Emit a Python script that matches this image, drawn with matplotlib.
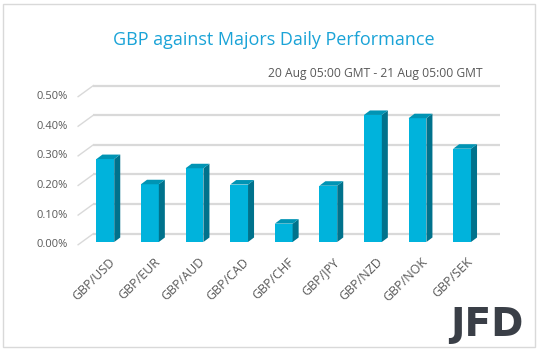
import matplotlib.pyplot as plt
from matplotlib.patches import Polygon, Rectangle

# data (% change)
pairs = ['GBP/USD', 'GBP/EUR', 'GBP/AUD', 'GBP/CAD', 'GBP/CHF',
         'GBP/JPY', 'GBP/NZD', 'GBP/NOK', 'GBP/SEK']
values = [0.280, 0.195, 0.249, 0.194, 0.062, 0.190, 0.429, 0.418, 0.315]
ticks = [0.0, 0.1, 0.2, 0.3, 0.4, 0.5]
tick_labels = ['0.00%', '0.10%', '0.20%', '0.30%', '0.40%', '0.50%']

title = 'GBP against Majors Daily Performance'
subtitle = '20 Aug 05:00 GMT - 21 Aug 05:00 GMT'

front_c = '#00B3DC'
top_c = '#0094B4'
side_c = '#00728C'
grid_c = '#D9D9D9'
text_c = '#595959'

plt.rcParams['font.family'] = ['Open Sans', 'DejaVu Sans']

fig = plt.figure(figsize=(5.38, 3.51), dpi=100)
ax = fig.add_axes([60 / 538, 101 / 351, 440 / 538, 170 / 351])
ax.set_xlim(-1.016, 8.85)
ax.set_ylim(-0.027, 0.547)
ax.axis('off')

# 3d offsets in data units
w = 0.40
dx = 0.135
dy = 0.0152
back_dy = 0.028      # back wall grid sits above bar baseline
back_x0 = -0.27      # left end of back grid
back_x1 = 8.85
front_x0 = -0.61
front_dy = -0.0092

for v in ticks:
    ax.plot([back_x0, back_x1], [v + back_dy, v + back_dy], color=grid_c, lw=1.6,
            zorder=1, solid_capstyle='butt')
    ax.plot([front_x0, back_x0], [v + front_dy, v + back_dy], color=grid_c, lw=1.0,
            zorder=1)

for lab, v in zip(tick_labels, ticks):
    ax.text(-0.84, v + front_dy, lab, ha='right', va='center', fontsize=8,
            color=text_c)

for i, v in enumerate(values):
    x0 = i - w / 2
    x1 = i + w / 2
    ax.add_patch(Rectangle((x0, 0), w, v, facecolor=front_c, edgecolor='none', zorder=3))
    ax.add_patch(Polygon([(x1, 0), (x1 + dx, dy), (x1 + dx, v + dy), (x1, v)],
                         closed=True, facecolor=side_c, edgecolor='none', zorder=3))
    ax.add_patch(Polygon([(x0, v), (x0 + dx, v + dy), (x1 + dx, v + dy), (x1, v)],
                         closed=True, facecolor=top_c, edgecolor='none', zorder=3))
    ax.text(i + 0.08, -0.045, pairs[i], rotation=45, ha='right', va='top',
            rotation_mode='anchor', fontsize=9, color=text_c)

fig.text(274 / 538, 1 - 40 / 351, title, ha='center', va='center', fontsize=13,
         color='#1AA3D7')
fig.text(483 / 538, 1 - 73 / 351, subtitle, ha='right', va='center', fontsize=8.7,
         color=text_c)

# logo
fig.text(523 / 538, 1 - 325 / 351, 'JFD', ha='right', va='center', fontsize=28,
         fontweight='bold', color='#3A3F47', family='DejaVu Sans')

# outer border
fig.patches.append(Rectangle((3 / 538, 4 / 351), 532 / 538, 343 / 351,
                             transform=fig.transFigure, fill=False,
                             edgecolor='#D9D9D9', lw=1))

fig.savefig('out.png', dpi=100)
